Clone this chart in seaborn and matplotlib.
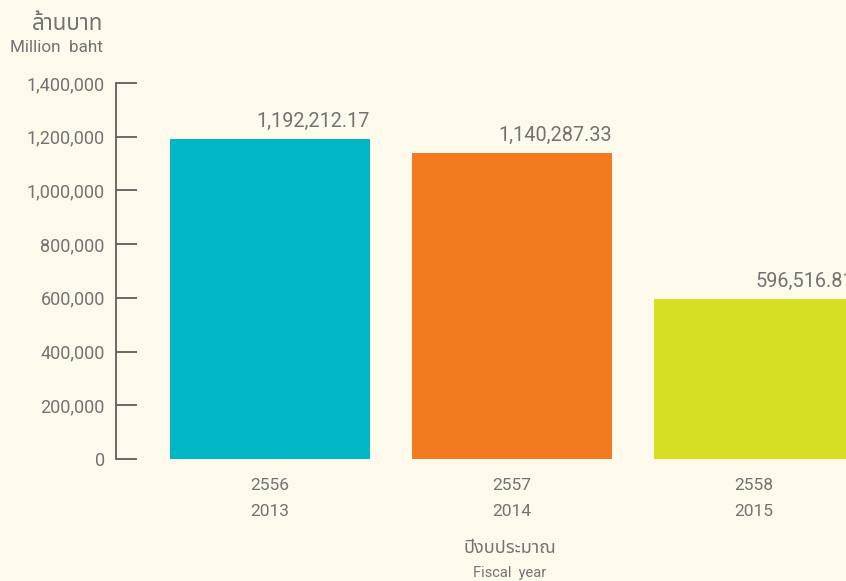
import matplotlib
matplotlib.use("Agg")
import matplotlib.pyplot as plt
import seaborn as sns
import pandas as pd

# Budget per fiscal year (million baht)
years_be = ["2556", "2557", "2558"]
years_ce = ["2013", "2014", "2015"]
budget = [1192212.17, 1140287.33, 596516.81]
bar_colors = ["#00b7c5", "#f47a20", "#d6df21"]
y_ticks = [0, 200000, 400000, 600000, 800000, 1000000, 1200000, 1400000]

sns.set_theme(style="white")
plt.rcParams["font.family"] = ["Roboto", "Noto Sans Thai", "Noto Sans", "DejaVu Sans"]

bg = "#fdf9eb"
text_color = "#737373"
axis_color = "#5e5e5e"

W, H = 846, 581
fig = plt.figure(figsize=(W / 100, H / 100), dpi=100, facecolor=bg)
ax = fig.add_axes([116 / W, (H - 459) / H, (W - 116) / W, (459 - 83) / H])
ax.set_facecolor(bg)

df = pd.DataFrame({"year": years_be, "budget": budget})
sns.barplot(data=df, x="year", y="budget", hue="year", palette=bar_colors,
            width=200 / 242, legend=False, ax=ax, saturation=1, linewidth=0)

ax.set_xlim(-154 / 242, 2 + 92 / 242)
ax.set_ylim(0, 1400000)

# value labels, right-aligned with each bar's right edge
for i, v in enumerate(budget):
    ax.annotate(f"{v:,.2f}", xy=(i + 100 / 242, v), xytext=(0, 6),
                textcoords="offset points", ha="right", va="bottom",
                fontsize=14.3, color=text_color, annotation_clip=False)

ax.set_yticks(y_ticks)
ax.set_yticklabels([f"{t:,}" for t in y_ticks])
ax.tick_params(axis="y", left=True, direction="in", length=15, width=1.3,
               color=axis_color, labelsize=13, labelcolor=text_color, pad=-2)
for lbl in ax.get_yticklabels():
    lbl.set_horizontalalignment("right")
    lbl.set_x(-14 / (W - 116))

ax.set_xticks(range(len(years_be)))
ax.set_xticklabels([f"{a}\n{b}" for a, b in zip(years_be, years_ce)],
                   linespacing=1.85)
ax.tick_params(axis="x", bottom=False, length=0, labelsize=12.5,
               labelcolor=text_color, pad=14)

ax.set_xlabel("")
ax.set_ylabel("")
for side in ["top", "right", "bottom"]:
    ax.spines[side].set_visible(False)
ax.spines["left"].set_color(axis_color)
ax.spines["left"].set_linewidth(1.3)

# axis titles
fig.text(103 / W, 1 - 25 / H, "ล้านบาท", ha="right", va="center",
         fontsize=16, color=text_color)
fig.text(103 / W, 1 - 47 / H, "Million  baht", ha="right", va="center",
         fontsize=12.3, color=text_color)
fig.text(510 / W, 1 - 548 / H, "ปีงบประมาณ", ha="center", va="center",
         fontsize=13, color=text_color)
fig.text(510 / W, 1 - 573 / H, "Fiscal  year", ha="center", va="center",
         fontsize=10.5, color=text_color)

fig.savefig("out.png", dpi=100, facecolor=bg)
